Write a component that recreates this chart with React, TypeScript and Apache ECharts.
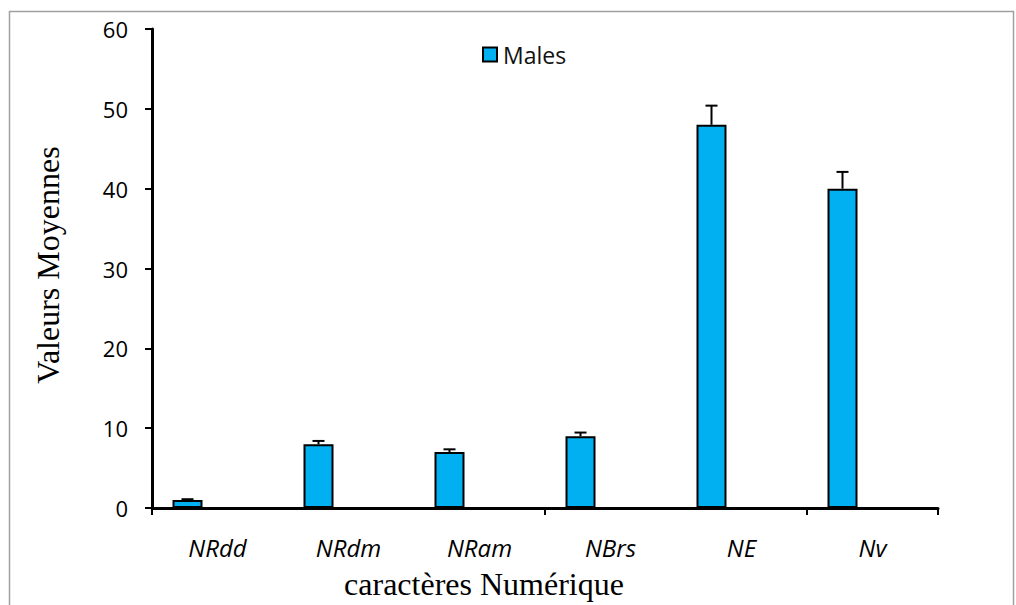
import React, { useEffect, useRef } from "react";
import * as echarts from "echarts";

const categories = ["NRdd", "NRdm", "NRam", "NBrs", "NE", "Nv"];
const maleValues = [1, 8, 7, 9, 48, 40];
const maleErrors = [0.1, 0.4, 0.35, 0.45, 2.4, 2.1];
const yTicks = { min: 0, max: 60, interval: 10 };

const BAR_W = 30;

export default function App() {
  const ref = useRef<HTMLDivElement>(null);
  useEffect(() => {
    document.body.style.margin = "0";
    const chart = echarts.init(ref.current!, null, { renderer: "svg" });
    const errData = categories.map((c, i) => [i, maleValues[i], maleErrors[i]]);
    chart.setOption({
      animation: false,
      backgroundColor: "#fff",
      grid: { left: 152, top: 29, width: 786, height: 479, containLabel: false },
      legend: {
        data: ["Males"],
        left: 477,
        top: 38,
        itemWidth: 14,
        itemHeight: 14,
        itemGap: 5,
        icon: "rect",
        itemStyle: { color: "#00B0F0", borderColor: "#000", borderWidth: 2 },
        textStyle: { fontFamily: "Open Sans", fontSize: 23, color: "#111", padding: [0, 0, 0, 1] },
      },
      graphic: [
        {
          type: "rect",
          shape: { x: 9.5, y: 11.5, width: 1004, height: 620 },
          style: { fill: "none", stroke: "#a0a0a0", lineWidth: 1.5 },
          silent: true,
        },
        {
          type: "text",
          x: 48,
          y: 265,
          rotation: Math.PI / 2,
          style: {
            text: "Valeurs Moyennes",
            fontFamily: "Liberation Serif",
            fontSize: 32,
            fill: "#000",
            align: "center",
            verticalAlign: "middle",
          },
        },
        {
          type: "text",
          x: 484,
          y: 584,
          style: {
            text: "caractères Numérique",
            fontFamily: "Liberation Serif",
            fontSize: 32,
            fill: "#000",
            align: "center",
            verticalAlign: "middle",
          },
        },
      ],
      xAxis: {
        type: "category",
        data: categories,
        boundaryGap: true,
        axisLine: { lineStyle: { color: "#000", width: 3 } },
        axisTick: { show: true, interval: 2, length: 7, lineStyle: { color: "#000", width: 2 } },
        axisLabel: {
          interval: 0,
          margin: 27,
          fontFamily: "Open Sans",
          fontStyle: "italic",
          fontSize: 24,
          color: "#000",
        },
        splitLine: { show: false },
      },
      yAxis: {
        type: "value",
        min: yTicks.min,
        max: yTicks.max,
        interval: yTicks.interval,
        axisLine: { show: true, lineStyle: { color: "#000", width: 3 } },
        axisTick: { show: true, length: 7, lineStyle: { color: "#000", width: 2 } },
        axisLabel: { margin: 24, fontFamily: "Open Sans", fontSize: 22, color: "#000" },
        splitLine: { show: false },
      },
      series: [
        {
          name: "Males",
          type: "bar",
          data: maleValues,
          barWidth: BAR_W,
          barGap: "100%",
          itemStyle: { color: "#00B0F0", borderColor: "#000", borderWidth: 2 },
          z: 2,
        },
        {
          name: "Femelles",
          type: "bar",
          data: categories.map(() => "-"),
          barWidth: BAR_W,
          barGap: "100%",
          itemStyle: { color: "#00B0F0" },
        },
        {
          name: "err",
          type: "custom",
          data: errData,
          encode: { x: 0, y: 1 },
          z: 5,
          renderItem: (params: any, api: any) => {
            const idx = api.value(0);
            const v = api.value(1);
            const e = api.value(2);
            const top = api.coord([idx, v]);
            const hi = api.coord([idx, v + e]);
            const x = top[0] - BAR_W;
            return {
              type: "group",
              children: [
                {
                  type: "line",
                  shape: { x1: x, y1: top[1], x2: x, y2: hi[1] },
                  style: { stroke: "#000", lineWidth: 2 },
                },
                {
                  type: "line",
                  shape: { x1: x - 6, y1: hi[1], x2: x + 6, y2: hi[1] },
                  style: { stroke: "#000", lineWidth: 2 },
                },
              ],
            };
          },
        },
      ],
    });
    return () => chart.dispose();
  }, []);
  return <div ref={ref} style={{ width: 1016, height: 605 }} />;
}
